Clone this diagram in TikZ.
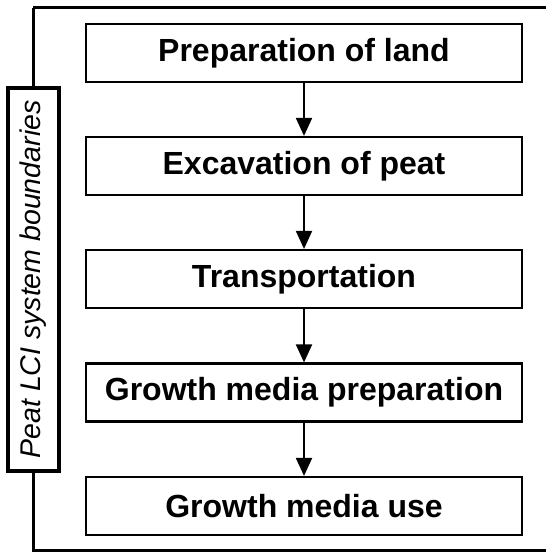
\documentclass[tikz,border=0pt]{standalone}
\usepackage{fontspec}
\setmainfont{Liberation Sans}
\usetikzlibrary{arrows.meta}
\begin{document}
\begin{tikzpicture}[x=1pt,y=-1pt,
  stage/.style={draw,line width=2.2pt,minimum width=436pt,minimum height=58pt,inner sep=0pt,
    font=\fontsize{32}{36}\selectfont\bfseries},
  flow/.style={-{Triangle[length=18pt,width=16pt]},line width=2pt},
  frame/.style={line width=3pt}]
\useasboundingbox (0,0) rectangle (546,552);
\draw[frame] (33,7.5) -- (548,7.5);
\draw[frame] (33,7.5) -- (33,550) -- (548,550);
\node[stage] (s1) at (304,53) {Preparation of land};
\node[stage] (s2) at (304,166) {Excavation of peat};
\node[stage] (s3) at (304,279) {Transportation};
\node[stage] (s4) at (304,392.5) {Growth media preparation};
\node[stage] (s5) at (304,506) {Growth media use};
\node[draw,fill=white,line width=3.5pt,minimum width=383pt,minimum height=51pt,inner sep=0pt,rotate=90,
  font=\fontsize{28.5}{32}\selectfont\itshape] (lbl) at (33.5,279.5) {Peat LCI system boundaries};
\draw[flow] (s1) -- (s2);
\draw[flow] (s2) -- (s3);
\draw[flow] (s3) -- (s4);
\draw[flow] (s4) -- (s5);
\end{tikzpicture}
\end{document}
